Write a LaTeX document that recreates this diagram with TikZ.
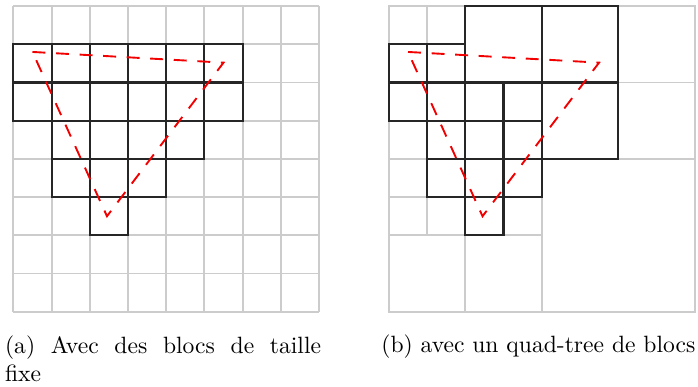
\documentclass[tikz,border=0pt]{standalone}
\usepackage{tikz}
\tikzset{every node/.append style={font=\normalsize}}
\tikzset{
  grille/.style={gray!40, line width=0.8pt},
  bloc/.style={black!85, line width=0.9pt},
  chemin/.style={red!95!black, line width=0.8pt, dash pattern=on 5.5pt off 4.5pt},
}

\begin{document}
\begin{tikzpicture}[x=16.2pt, y=16.2pt]
    \useasboundingbox (-0.35,-1.96) rectangle (17.92,8.16);

    % (a) blocs de taille fixe
    \foreach \i in {0,...,8}
        \draw[grille] (\i,0) -- (\i,8) (0,\i) -- (8,\i);
    \foreach \y/\a/\b in {6/0/5, 5/0/5, 4/1/4, 3/1/3, 2/2/2}
        \foreach \x in {\a,...,\b}
            \draw[bloc] (\x,\y) rectangle ++(1,1);
    \node[anchor=north west, inner sep=0pt, text width=134pt, align=justify]
        (capa) at (-0.23,-0.61) {(a) Avec des blocs de taille\linebreak fixe};

    % (b) quad-tree
    \begin{scope}[shift={(9.83,0)}]
        \draw[grille] (0,0) rectangle (8,8);
        \draw[grille] (4,0) -- (4,8) (0,4) -- (8,4);
        \draw[grille] (6,4) -- (6,8) (0,6) -- (8,6);
        \draw[grille] (2,0) -- (2,8) (0,2) -- (4,2);
        \draw[grille] (1,2) -- (1,8) (3,2) -- (3,6);
        \draw[grille] (0,3) -- (4,3) (0,5) -- (4,5) (0,7) -- (2,7);
        \foreach \y/\a/\b in {6/0/1, 5/0/3, 4/1/3, 3/1/3, 2/2/2}
            \foreach \x in {\a,...,\b}
                \draw[bloc] (\x,\y) rectangle ++(1,1);
        \foreach \x/\y in {2/6, 4/6, 4/4}
            \draw[bloc] (\x,\y) rectangle ++(2,2);
    \end{scope}
    \node[anchor=base west, inner sep=0pt] (capb) at (9.62,-1.073)
        {(b) avec un quad-tree de blocs};

    % le triangle, dans les deux grilles
    \foreach \dx in {0,9.83}
        \draw[chemin, shift={(\dx,0)}] (0.5,6.8) -- (5.5,6.52) -- (2.45,2.5) -- cycle;
\end{tikzpicture}
\end{document}
